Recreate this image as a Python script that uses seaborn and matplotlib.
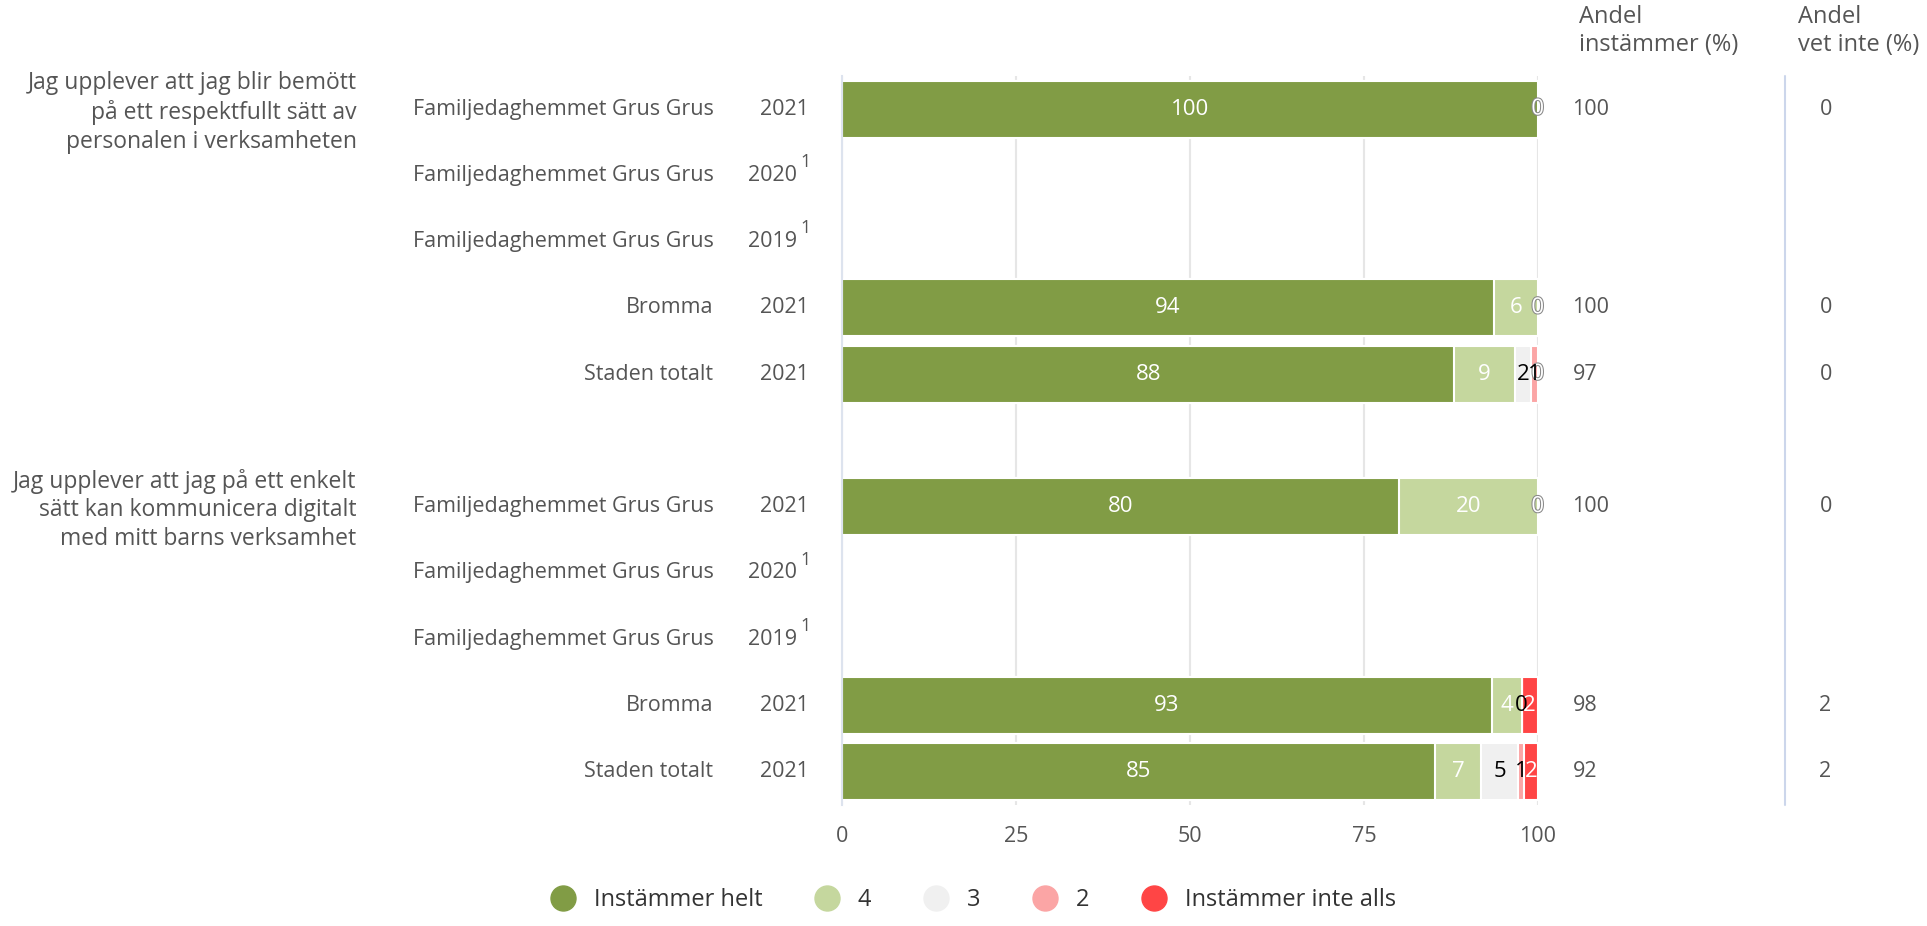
import numpy as np
import pandas as pd
import matplotlib
matplotlib.use("Agg")
import matplotlib.pyplot as plt
import matplotlib.patheffects as pe
from matplotlib.lines import Line2D
import seaborn as sns

# rows of the chart, top to bottom ("gap" is the empty slot between questions)
row_ids = ["r0", "r1", "r2", "r3", "r4", "gap", "r6", "r7", "r8", "r9", "r10"]
entities = ["Familjedaghemmet Grus Grus", "Familjedaghemmet Grus Grus", "Familjedaghemmet Grus Grus",
            "Bromma", "Staden totalt", "",
            "Familjedaghemmet Grus Grus", "Familjedaghemmet Grus Grus", "Familjedaghemmet Grus Grus",
            "Bromma", "Staden totalt"]
years = ["2021", "2020", "2019", "2021", "2021", "", "2021", "2020", "2019", "2021", "2021"]
footnotes = ["", "1", "1", "", "", "", "", "1", "1", "", ""]

questions = ["Jag upplever att jag blir bemött\npå ett respektfullt sätt av\npersonalen i verksamheten",
             "Jag upplever att jag på ett enkelt\nsätt kan kommunicera digitalt\nmed mitt barns verksamhet"]
question_rows = [0, 6]

# rows that have answers
bar_rows = ["r0", "r3", "r4", "r6", "r9", "r10"]
helt = [100, 93.7, 88.0, 80, 93.4, 85.3]
fyra = [0, 6.3, 8.7, 20, 4.3, 6.6]
tre = [0, 0, 2.4, 0, 0, 5.3]
tva = [0, 0, 0.9, 0, 0, 0.8]
inte_alls = [0, 0, 0, 0, 2.3, 2.0]
andel_instammer = [100, 100, 97, 100, 98, 92]
andel_vet_inte = [0, 0, 0, 0, 2, 2]

seg_names = ["Instämmer helt", "4", "3", "2", "Instämmer inte alls"]
seg_colors = ["#819c45", "#c5d79e", "#f0f0f0", "#fba5a5", "#ff4545"]
seg_text = ["white", "white", "black", "black", "white"]

df = pd.DataFrame({"row": bar_rows, "helt": helt, "fyra": fyra, "tre": tre,
                   "tva": tva, "inte_alls": inte_alls})
seg_cols = ["helt", "fyra", "tre", "tva", "inte_alls"]
cum = df[seg_cols].cumsum(axis=1)

sns.set_style("white")
plt.rcParams["font.family"] = ["Open Sans", "DejaVu Sans"]
grey = "#555555"
fs = 15.5

fig = plt.figure(figsize=(19.27, 9.26), dpi=100)
ax = fig.add_axes([0.437, 0.131, 0.361, 0.787])

# stacked bars: draw cumulative layers from the longest to the shortest
for k in range(len(seg_cols) - 1, -1, -1):
    layer = pd.DataFrame({"row": bar_rows, "val": cum[seg_cols[k]].values})
    sns.barplot(data=layer, x="val", y="row", order=row_ids, orient="h",
                color=seg_colors[k], saturation=1, width=0.86, errorbar=None,
                edgecolor="white", linewidth=1.5, ax=ax, zorder=3)

ax.set_xlim(0, 100)
ax.set_ylim(len(row_ids) - 0.5, -0.5)
ax.set_xlabel("")
ax.set_ylabel("")
ax.set_xticks([0, 25, 50, 75, 100])
ax.tick_params(axis="x", length=0, pad=15, labelsize=fs, labelcolor=grey)
ax.set_yticks(range(len(row_ids)))
ax.set_yticklabels([])
ax.tick_params(axis="y", which="major", length=0)
ax.set_yticks(np.arange(-0.5, len(row_ids), 1), minor=True)
ax.tick_params(axis="y", which="minor", length=14, width=1.5, color="#ccd6eb")
ax.grid(axis="x", color="#e6e6e6", linewidth=1.5, zorder=0)
ax.grid(axis="y", visible=False)
ax.set_axisbelow(True)
for s in ["top", "right", "bottom"]:
    ax.spines[s].set_visible(False)
ax.spines["left"].set_color("#dde3ee")
ax.spines["left"].set_linewidth(1.5)
ax.spines["left"].set_zorder(4)

# segment labels; zeros that share a spot: only the last one shows, under the others
for i, r in enumerate(bar_rows):
    y = row_ids.index(r)
    left = 0
    labels = []
    for k, col in enumerate(seg_cols):
        v = df.loc[i, col]
        labels.append((left + v / 2, v, k))
        left += v
    zero_spots = {}
    for x, v, k in labels:
        if round(v) == 0:
            zero_spots[round(x, 2)] = (x, v, k)
    shown = [(x, v, k) for x, v, k in labels if round(v) != 0] + list(zero_spots.values())
    for x, v, k in shown:
        zero = round(v) == 0
        lab = ax.text(x, y, f"{v:.0f}", ha="center", va="center", fontsize=16,
                      color=seg_text[k], zorder=5 if zero else 6)
        if zero and seg_text[k] == "white":
            lab.set_path_effects([pe.Stroke(linewidth=1.5, foreground="#888888"), pe.Normal()])

ytr = ax.get_yaxis_transform()
# row labels
for y, (ent, yr, fn) in enumerate(zip(entities, years, footnotes)):
    if ent:
        ax.text(-0.185, y, ent, transform=ytr, ha="right", va="center", fontsize=fs, color=grey)
    if yr:
        if fn:
            ax.text(-0.0647, y, yr, transform=ytr, ha="right", va="center", fontsize=fs, color=grey)
            ax.text(-0.0595, y - 0.2, fn, transform=ytr, ha="left", va="center", fontsize=13, color=grey)
        else:
            ax.text(-0.0474, y, yr, transform=ytr, ha="right", va="center", fontsize=fs, color=grey)

for q, qy in zip(questions, question_rows):
    ax.text(-0.698, qy + 0.05, q, transform=ytr, ha="right", va="center", fontsize=16.5,
            color=grey, linespacing=1.27)

# right-hand columns
for r, a, v in zip(bar_rows, andel_instammer, andel_vet_inte):
    y = row_ids.index(r)
    ax.text(1.050, y, f"{a}", transform=ytr, ha="left", va="center", fontsize=fs, color=grey)
    ax.text(1.405, y, f"{v}", transform=ytr, ha="left", va="center", fontsize=fs, color=grey)

ax.text(1.060, 1.062, "Andel\ninstämmer (%)", transform=ax.transAxes, ha="left", va="center",
        fontsize=17, color=grey, linespacing=1.2)
ax.text(1.374, 1.062, "Andel\nvet inte (%)", transform=ax.transAxes, ha="left", va="center",
        fontsize=17, color=grey, linespacing=1.2)
ax.plot([1.355, 1.355], [0, 1], transform=ax.transAxes, color="#ccd6eb", linewidth=1.5,
        clip_on=False)

# legend
handles = [Line2D([0], [0], marker="o", linestyle="", markersize=18,
                  markerfacecolor=c, markeredgecolor=c) for c in seg_colors]
fig.legend(handles, seg_names, loc="lower center", bbox_to_anchor=(0.505, -0.008), ncol=5,
           frameon=False, fontsize=17, handletextpad=0.75, columnspacing=2.2,
           handlelength=1.1, labelcolor="#333333")

fig.savefig("out.png", dpi=100)
